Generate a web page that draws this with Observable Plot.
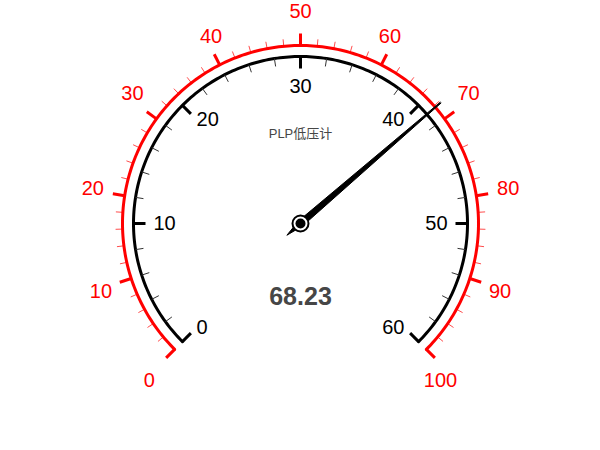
<!DOCTYPE html>
<html>
<head>
<meta charset="utf-8">
<script src="https://cdn.jsdelivr.net/npm/d3@7"></script>
<script src="https://cdn.jsdelivr.net/npm/@observablehq/plot@0.6"></script>
<style>
  html, body { margin: 0; padding: 0; background: #fff; }
  #chart svg { display: block; }
</style>
</head>
<body>
<div id="chart"></div>
<script>
// ---- data ----
const title = "PLP低压计";
const value = 68.23;
const outerMin = 0, outerMax = 100;
const outerMajor = [0, 10, 20, 30, 40, 50, 60, 70, 80, 90, 100];
const outerMinorStep = 2;
const innerMin = 0, innerMax = 60;
const innerMajor = [0, 10, 20, 30, 40, 50, 60];
const innerMinorStep = 2;

// ---- layout ----
const W = 600, H = 450;
const cx = 300, cy = 223;
const startAngle = 225, endAngle = -45;
const rOuter = 178, rInner = 167;
const labelSize = 20;
const font = "'Liberation Sans', Arial, 'Noto Sans CJK SC', sans-serif";

function ang(v, min, max) {
  return (startAngle + (endAngle - startAngle) * (v - min) / (max - min)) * Math.PI / 180;
}
function pt(a, r) { return [cx + r * Math.cos(a), cy - r * Math.sin(a)]; }

function arcPoints(min, max, r) {
  const pts = [];
  const n = 270;
  for (let i = 0; i <= n; i++) {
    const v = min + (max - min) * i / n;
    const [x, y] = pt(ang(v, min, max), r);
    pts.push({x, y});
  }
  return pts;
}
function tickRows(vals, min, max, r1, r2) {
  return vals.map(v => {
    const a = ang(v, min, max);
    const [x1, y1] = pt(a, r1);
    const [x2, y2] = pt(a, r2);
    return {v, x1, y1, x2, y2};
  });
}
function minorVals(min, max, step, major) {
  const out = [];
  for (let v = min; v <= max + 1e-9; v += step) {
    const vv = Math.round(v * 1000) / 1000;
    if (!major.includes(vv)) out.push(vv);
  }
  return out;
}
// gauge-style label anchoring: align toward the centre depending on angle
function labelRows(vals, min, max, r, fs) {
  return vals.map(v => {
    const a = ang(v, min, max);
    const ux = Math.cos(a), uy = -Math.sin(a); // screen unit vector
    const [ax, ay] = pt(a, r);
    const w = String(v).length * 0.556 * fs;
    const h = fs;
    const dx = ux < -0.4 ? w / 2 : ux > 0.4 ? -w / 2 : 0;
    const dy = uy < -0.8 ? h / 2 : uy > 0.8 ? -h / 2 : 0;
    return {v, x: ax + dx, y: ay + dy};
  });
}

const outerArc = arcPoints(outerMin, outerMax, rOuter);
const innerArc = arcPoints(innerMin, innerMax, rInner);
const outerMajorTicks = tickRows(outerMajor, outerMin, outerMax, rOuter, rOuter + 12);
const outerMinorTicks = tickRows(minorVals(outerMin, outerMax, outerMinorStep, outerMajor), outerMin, outerMax, rOuter, rOuter + 7);
const innerMajorTicks = tickRows(innerMajor, innerMin, innerMax, rInner, rInner - 12);
const innerMinorTicks = tickRows(minorVals(innerMin, innerMax, innerMinorStep, innerMajor), innerMin, innerMax, rInner, rInner - 8);
const outerLabels = labelRows(outerMajor, outerMin, outerMax, 221.5, labelSize);
const innerLabels = labelRows(innerMajor, innerMin, innerMax, 147, labelSize);

// needle polygon (local coords: [radius, offset])
const na = ang(value, outerMin, outerMax);
const needleShape = [[185, 0.6], [0, 3.2], [-18, 0], [0, -3.2], [185, -0.6]];
const needle = needleShape.map(([r, w]) => {
  const x = cx + r * Math.cos(na) + w * Math.sin(na);
  const y = cy - r * Math.sin(na) + w * Math.cos(na);
  return {x, y};
});
const center = [{x: cx, y: cy}];
const textRows = [{x: cx, y: cy - 90, t: title}];
const valueRows = [{x: cx, y: cy + 73, t: value.toFixed(2)}];

const chart = Plot.plot({
  width: W, height: H, margin: 0,
  style: {fontFamily: font, background: "#fff"},
  x: {type: "linear", domain: [0, W], range: [0, W], axis: null},
  y: {type: "linear", domain: [0, H], range: [0, H], axis: null},
  marks: [
    Plot.line(outerArc, {x: "x", y: "y", stroke: "#ff0000", strokeWidth: 3, curve: "linear"}),
    Plot.link(outerMajorTicks, {x1: "x1", y1: "y1", x2: "x2", y2: "y2", stroke: "#ff0000", strokeWidth: 3}),
    Plot.link(outerMinorTicks, {x1: "x1", y1: "y1", x2: "x2", y2: "y2", stroke: "#ff0000", strokeWidth: 1, strokeOpacity: 0.7}),
    Plot.text(outerLabels, {x: "x", y: "y", text: d => String(d.v), fill: "#ff0000", fontSize: labelSize, textAnchor: "middle", lineAnchor: "middle"}),
    Plot.line(innerArc, {x: "x", y: "y", stroke: "#000", strokeWidth: 3, curve: "linear"}),
    Plot.link(innerMajorTicks, {x1: "x1", y1: "y1", x2: "x2", y2: "y2", stroke: "#000", strokeWidth: 3}),
    Plot.link(innerMinorTicks, {x1: "x1", y1: "y1", x2: "x2", y2: "y2", stroke: "#333", strokeWidth: 1}),
    Plot.text(innerLabels, {x: "x", y: "y", text: d => String(d.v), fill: "#000", fontSize: labelSize, textAnchor: "middle", lineAnchor: "middle"}),
    Plot.text(textRows, {x: "x", y: "y", text: "t", fill: "#464646", fontSize: 13, textAnchor: "middle", lineAnchor: "middle"}),
    Plot.text(valueRows, {x: "x", y: "y", text: "t", fill: "#464646", fontSize: 25, fontWeight: "bold", textAnchor: "middle", lineAnchor: "middle"}),
    Plot.line(needle, {x: "x", y: "y", fill: "#000", stroke: "#000", strokeWidth: 1, curve: "linear"}),
    Plot.dot(center, {x: "x", y: "y", r: 8, fill: "#fff", stroke: "#000", strokeWidth: 2}),
    Plot.dot(center, {x: "x", y: "y", r: 5, fill: "#000", stroke: "none"})
  ]
});
document.getElementById("chart").appendChild(chart);
</script>
</body>
</html>
